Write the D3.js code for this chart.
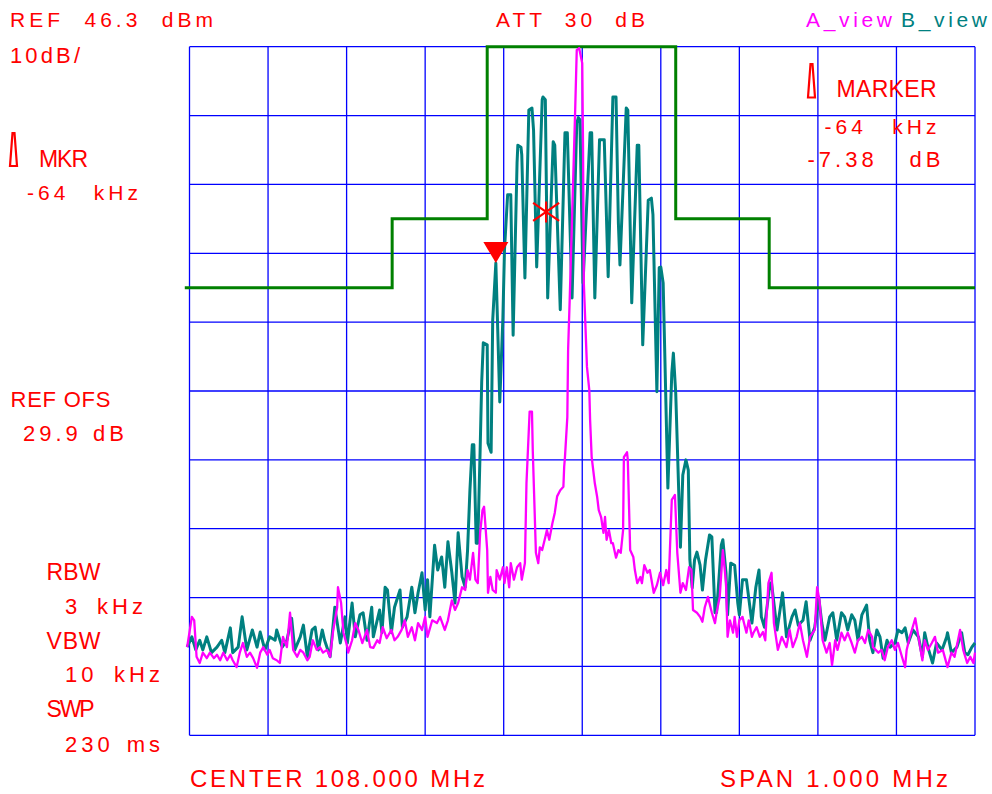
<!DOCTYPE html>
<html><head><meta charset="utf-8">
<script src="https://cdn.jsdelivr.net/npm/d3@7"></script>
<style>
body{margin:0;background:#fff}
svg{display:block}
text{font-family:"Liberation Sans",Arial,sans-serif;white-space:pre}
</style></head><body>
<svg id="c" width="992" height="794"></svg>
<script>
// ---- data (frequency offset from 108.000 MHz in kHz, level in dBm) ----
const freqTicks = [-500,-400,-300,-200,-100,0,100,200,300,400,500];
const levelTicks = [-53.7,-43.7,-33.7,-23.7,-13.7,-3.7,6.3,16.3,26.3,36.3,46.3];

const maskFreq  = [-506,-242,-242,-121,-121,119,119,238,238,500];
const maskLevel = [11.3,11.3,21.3,21.3,46.3,46.3,21.3,21.3,11.3,11.3];

const traceB = [
[-503,-40.9],[-497,-39.4],[-492,-41.3],[-487,-39.9],[-483,-41.3],[-478,-39.4],[-472,-41.7],[-465,-40.9],[-459,-39.9],[-455,-41.7],[-448,-38.1],[-445,-41.7],[-438,-40.9],[-433,-36.5],[-427,-41.3],[-420,-38.4],[-414,-40.9],[-410,-38.7],[-404,-41.3],[-398,-39.4],[-391,-39.9],[-389,-38.4],[-382,-40.9],[-376,-39.9],[-370,-36.7],[-366,-41.3],[-359,-39.4],[-355,-37.7],[-350,-42.3],[-344,-38.4],[-340,-38.0],[-336,-41.3],[-331,-38.4],[-328,-39.9],[-321,-42.3],[-315,-35.1],[-308,-40.3],[-302,-36.5],[-299,-40.3],[-293,-34.5],[-289,-39.4],[-283,-36.2],[-279,-35.9],[-274,-39.9],[-268,-35.1],[-266,-39.4],[-258,-35.5],[-255,-38.8],[-251,-32.2],[-248,-32.6],[-243,-38.8],[-239,-35.1],[-232,-32.6],[-229,-38.0],[-223,-36.5],[-217,-32.2],[-213,-35.9],[-209,-33.0],[-204,-30.1],[-200,-35.5],[-197,-31.1],[-194,-36.5],[-188,-26.1],[-184,-29.7],[-179,-27.8],[-175,-32.2],[-171,-25.6],[-166,-30.1],[-162,-34.5],[-158,-24.3],[-153,-30.7],[-149,-32.2],[-146,-26.8],[-143,-18.1],[-140,-11.5],[-138,-11.5],[-135,-25.8],[-133,-25.8],[-130,-12.3],[-128,-2.4],[-126,3.3],[-121,3.0],[-120,-11.3],[-116,-12.6],[-114,6.6],[-110,14.9],[-105,-5.3],[-101,7.0],[-99,16.8],[-95,24.8],[-91,24.8],[-88,4.4],[-83,29.4],[-82,32.0],[-78,31.7],[-77,30.6],[-73,12.7],[-68,37.1],[-64,37.4],[-62,34.2],[-58,14.3],[-51,38.6],[-50,39.0],[-47,38.6],[-44,9.8],[-37,32.5],[-35,32.0],[-28,8.1],[-22,33.8],[-19,33.8],[-13,9.8],[-7,35.2],[-5,36.0],[-3,35.7],[1,12.0],[10,33.8],[12,33.8],[16,9.8],[22,32.8],[28,32.8],[33,12.9],[39,39.0],[43,39.0],[46,20.7],[48,14.6],[56,37.4],[58,37.1],[63,9.1],[70,32.0],[72,32.0],[77,3.0],[84,24.0],[88,24.3],[90,21.9],[95,-3.8],[98,14.2],[100,14.3],[103,12.0],[109,-17.8],[114,-1.1],[116,1.8],[119,-4.0],[125,-26.4],[128,-15.9],[132,-13.7],[135,-15.2],[137,-28.2],[140,-32.3],[143,-28.2],[146,-27.1],[150,-29.0],[153,-32.6],[157,-28.2],[162,-24.6],[165,-24.9],[169,-35.9],[171,-35.9],[177,-26.1],[179,-25.3],[183,-30.1],[185,-36.2],[189,-28.7],[194,-29.0],[198,-34.5],[200,-36.2],[204,-31.1],[209,-31.1],[216,-37.4],[221,-32.2],[225,-29.7],[228,-36.5],[232,-38.0],[239,-31.6],[241,-31.6],[248,-38.4],[255,-33.0],[260,-39.4],[267,-36.5],[271,-35.5],[275,-37.7],[281,-37.0],[285,-34.3],[290,-39.9],[296,-38.0],[301,-33.6],[305,-37.4],[309,-39.9],[315,-36.5],[319,-35.9],[324,-39.9],[330,-35.9],[334,-36.5],[338,-38.4],[343,-36.2],[347,-37.0],[351,-39.9],[356,-36.2],[362,-34.8],[366,-39.9],[370,-41.7],[375,-38.4],[379,-39.4],[383,-42.5],[388,-39.9],[392,-40.9],[398,-40.3],[402,-38.4],[407,-38.8],[411,-38.1],[415,-40.3],[421,-38.4],[428,-39.4],[433,-42.3],[436,-38.8],[440,-40.9],[446,-43.2],[451,-40.3],[458,-41.3],[464,-39.4],[465,-38.8],[470,-41.7],[477,-40.9],[483,-38.8],[487,-41.7],[491,-42.0],[496,-40.9],[500,-40.3]
];

const traceA = [
[-503,-40.9],[-497,-36.5],[-494,-37.0],[-491,-42.3],[-487,-43.2],[-483,-41.7],[-478,-42.5],[-474,-41.7],[-469,-42.5],[-465,-42.0],[-461,-42.8],[-457,-41.7],[-452,-42.8],[-448,-42.0],[-445,-42.8],[-440,-43.8],[-436,-41.7],[-432,-40.3],[-427,-42.3],[-423,-41.7],[-419,-42.5],[-414,-43.9],[-410,-41.7],[-406,-40.9],[-401,-42.0],[-398,-41.3],[-394,-42.5],[-389,-42.8],[-385,-43.2],[-381,-39.4],[-376,-40.9],[-372,-35.9],[-368,-41.3],[-363,-42.3],[-359,-41.3],[-355,-41.7],[-350,-42.8],[-347,-42.3],[-343,-39.9],[-338,-41.3],[-334,-40.9],[-330,-41.7],[-325,-41.3],[-321,-42.3],[-317,-38.4],[-312,-35.1],[-311,-32.2],[-307,-34.5],[-304,-38.8],[-299,-40.9],[-298,-41.7],[-293,-39.9],[-289,-37.4],[-285,-38.4],[-280,-40.3],[-274,-38.4],[-270,-40.9],[-266,-41.0],[-261,-39.9],[-258,-40.3],[-254,-38.0],[-249,-39.6],[-243,-38.4],[-239,-39.9],[-235,-39.4],[-230,-38.4],[-226,-37.0],[-222,-39.4],[-217,-38.0],[-213,-39.9],[-209,-37.4],[-204,-38.4],[-200,-36.5],[-197,-39.4],[-191,-37.0],[-185,-37.4],[-181,-36.5],[-175,-38.4],[-171,-37.0],[-166,-34.1],[-162,-35.5],[-158,-34.5],[-153,-32.2],[-149,-32.6],[-146,-29.7],[-143,-31.1],[-139,-27.2],[-136,-31.1],[-133,-31.6],[-130,-24.3],[-127,-21.0],[-125,-20.5],[-121,-26.8],[-120,-33.0],[-117,-30.7],[-114,-32.6],[-110,-33.0],[-109,-29.7],[-105,-31.1],[-101,-29.3],[-99,-31.6],[-96,-29.3],[-93,-32.2],[-91,-28.7],[-87,-31.1],[-83,-29.3],[-79,-28.7],[-77,-31.1],[-73,-28.7],[-71,-17.1],[-67,-6.7],[-64,-6.7],[-63,-12.3],[-59,-27.2],[-56,-28.7],[-54,-26.4],[-51,-26.8],[-47,-24.9],[-45,-23.9],[-42,-25.3],[-38,-22.9],[-35,-21.4],[-32,-19.0],[-28,-18.1],[-24,-17.6],[-23,-14.7],[-22,-13.3],[-19,-7.5],[-18,2.3],[-16,9.5],[-9,37.1],[-7,45.8],[-4,46.1],[0,43.9],[1,31.7],[2,12.0],[6,-0.2],[9,-3.6],[10,-7.9],[12,-13.3],[16,-17.1],[19,-19.1],[21,-21.0],[24,-22.0],[27,-24.3],[29,-22.0],[31,-25.3],[34,-23.9],[37,-25.8],[39,-25.8],[43,-27.9],[46,-26.8],[49,-27.2],[52,-23.9],[53,-13.3],[57,-12.6],[58,-13.7],[61,-26.8],[65,-27.8],[67,-29.7],[70,-31.6],[74,-30.7],[76,-31.6],[79,-29.0],[83,-30.1],[86,-29.7],[91,-33.0],[95,-31.9],[99,-30.1],[103,-31.9],[107,-29.7],[110,-31.6],[114,-19.5],[118,-18.8],[121,-27.2],[125,-33.0],[128,-31.6],[132,-32.6],[136,-29.3],[139,-29.7],[141,-35.5],[146,-35.9],[150,-36.5],[153,-37.2],[156,-35.1],[160,-33.6],[165,-35.9],[169,-37.4],[171,-35.9],[175,-33.6],[179,-26.8],[183,-31.6],[185,-39.4],[188,-37.0],[192,-38.8],[194,-36.5],[197,-39.4],[200,-37.0],[204,-36.5],[209,-38.8],[212,-37.0],[216,-39.4],[218,-38.8],[222,-38.0],[226,-39.4],[230,-38.7],[233,-39.9],[237,-31.6],[241,-30.1],[244,-37.4],[249,-41.3],[254,-39.4],[260,-40.9],[264,-38.4],[268,-40.9],[273,-39.4],[277,-37.4],[281,-39.9],[286,-42.3],[290,-39.4],[296,-38.4],[299,-32.2],[302,-34.1],[306,-39.9],[311,-41.7],[315,-40.3],[318,-43.5],[322,-39.9],[325,-41.3],[330,-38.8],[334,-39.9],[338,-38.8],[343,-40.3],[347,-41.7],[351,-39.9],[356,-39.4],[360,-40.3],[364,-38.4],[369,-39.4],[370,-40.9],[377,-41.7],[381,-41.3],[385,-42.8],[389,-40.9],[394,-39.9],[398,-41.3],[402,-40.3],[407,-42.3],[411,-43.8],[413,-41.3],[417,-39.4],[424,-36.7],[428,-39.4],[433,-42.8],[436,-39.9],[440,-41.3],[445,-40.3],[449,-39.4],[453,-41.7],[459,-41.3],[465,-43.8],[470,-41.7],[474,-42.3],[481,-38.4],[485,-41.3],[490,-43.2],[494,-42.3],[498,-43.2],[500,-41.7]
];

const refMarker = {freq: -46, level: 22.3};
const deltaMarker = {freq: -110, level: 14.9};

const infoLeft  = ["REF 46.3 dBm", "10dB/", "MKR", "-64 kHz", "REF OFS", "29.9 dB", "RBW", "3 kHz", "VBW", "10 kHz", "SWP", "230 ms"];
const infoTop   = ["ATT 30 dB"];
const infoRight = ["MARKER", "-64 kHz", "-7.38 dB"];
const infoBottom = ["CENTER 108.000 MHz", "SPAN 1.000 MHz"];
const traceNames = ["A_view", "B_view"];

// ---- drawing ----
const RED = "#ff0000", BLUE = "#0000ff", TEAL = "#008080", MAG = "#ff00ff", GREEN = "#008000";
const svg = d3.select("#c");
const x = d3.scaleLinear().domain([-500, 500]).range([189.5, 975]);
const y = d3.scaleLinear().domain([-53.7, 46.3]).range([735.3, 46.7]);

const yTop = y(levelTicks[levelTicks.length - 1]), yBot = y(levelTicks[0]);
const grid = svg.append("g").attr("stroke", BLUE).attr("stroke-width", 1.3);
grid.selectAll("line.v").data(freqTicks).join("line").attr("class", "v")
  .attr("x1", d => x(d)).attr("x2", d => x(d)).attr("y1", yTop).attr("y2", yBot);
grid.selectAll("line.h").data(levelTicks).join("line").attr("class", "h")
  .attr("y1", d => y(d)).attr("y2", d => y(d)).attr("x1", x(freqTicks[0])).attr("x2", x(freqTicks[freqTicks.length - 1]));

const line = d3.line().x(d => x(d[0])).y(d => y(d[1]));
const mask = maskFreq.map((f, i) => [f, maskLevel[i]]);
svg.append("path").attr("d", line(mask)).attr("fill", "none").attr("stroke", GREEN).attr("stroke-width", 3);

svg.append("path").attr("d", line(traceB)).attr("fill", "none").attr("stroke", TEAL)
  .attr("stroke-width", 3).attr("stroke-linejoin", "round");
svg.append("path").attr("d", line(traceA)).attr("fill", "none").attr("stroke", MAG)
  .attr("stroke-width", 2.3).attr("stroke-linejoin", "round");

// delta marker (filled triangle, tip on trace)
const dmx = x(deltaMarker.freq), dmy = y(deltaMarker.level);
svg.append("path").attr("d", `M${dmx - 12.5},${dmy - 21}L${dmx + 12.5},${dmy - 21}L${dmx},${dmy}Z`).attr("fill", RED);
// reference marker (asterisk)
const rmx = x(refMarker.freq), rmy = y(refMarker.level);
svg.append("path")
  .attr("d", `M${rmx},${rmy - 10.5}L${rmx},${rmy + 10.5}M${rmx - 13},${rmy - 9}L${rmx + 13},${rmy + 9}M${rmx - 13},${rmy + 9}L${rmx + 13},${rmy - 9}`)
  .attr("stroke", RED).attr("stroke-width", 2.2).attr("fill", "none");

// marker icons
function icon(cx, top, bot) {
  svg.append("path").attr("d", `M${cx - 1},${top}L${cx + 1},${top}L${cx + 3.5},${bot}L${cx - 3.5},${bot}Z`)
    .attr("fill", "#fff").attr("stroke", RED).attr("stroke-width", 2.2).attr("stroke-linejoin", "miter");
}
icon(13.5, 133, 166);
icon(811.5, 64, 97.5);

// text: natural glyphs with letter spacing, word gaps widened to the measured extent
function label(t, x0, yb, size, len, color) {
  const el = svg.append("text").attr("x", x0).attr("y", yb).attr("font-size", size).attr("fill", color).text(t);
  const n = t.length, spaces = (t.match(/ /g) || []).length;
  const w0 = el.node().getComputedTextLength();
  if (spaces > 0) {
    const ls = Math.max(0, Math.min(4, (len - w0) / (n - 1)));
    const ws = (len - w0 - (n - 1) * ls) / spaces;
    el.style("letter-spacing", ls + "px").style("word-spacing", ws + "px");
  } else {
    el.style("letter-spacing", ((len - w0) / (n - 1)) + "px");
  }
}
label(infoLeft[0], 10, 27, 21, 203, RED);
label(infoLeft[1], 10, 63, 22, 70, RED);
label(infoLeft[2], 39, 167, 23, 49, RED);
label(infoLeft[3], 27, 200, 21, 111, RED);
label(infoLeft[4], 10.5, 407, 22, 100, RED);
label(infoLeft[5], 23, 441, 22, 101, RED);
label(infoLeft[6], 46.5, 580, 23, 54, RED);
label(infoLeft[7], 65, 613.5, 22, 78, RED);
label(infoLeft[8], 46.5, 648.5, 23, 54, RED);
label(infoLeft[9], 65, 682, 22, 95, RED);
label(infoLeft[10], 46.5, 716.5, 23, 48, RED);
label(infoLeft[11], 65, 751.5, 22, 95, RED);
label(infoTop[0], 496, 27, 21, 149, RED);
label(infoRight[0], 836.5, 97, 23, 100, RED);
label(infoRight[1], 824.5, 133.5, 21, 112, RED);
label(infoRight[2], 807.5, 167, 22, 133, RED);
label(infoBottom[0], 190, 787, 24, 295, RED);
label(infoBottom[1], 720, 787, 24, 228, RED);
label(traceNames[0], 806, 27, 21, 86, MAG);
label(traceNames[1], 901, 27, 21, 86, TEAL);
</script>
</body></html>
